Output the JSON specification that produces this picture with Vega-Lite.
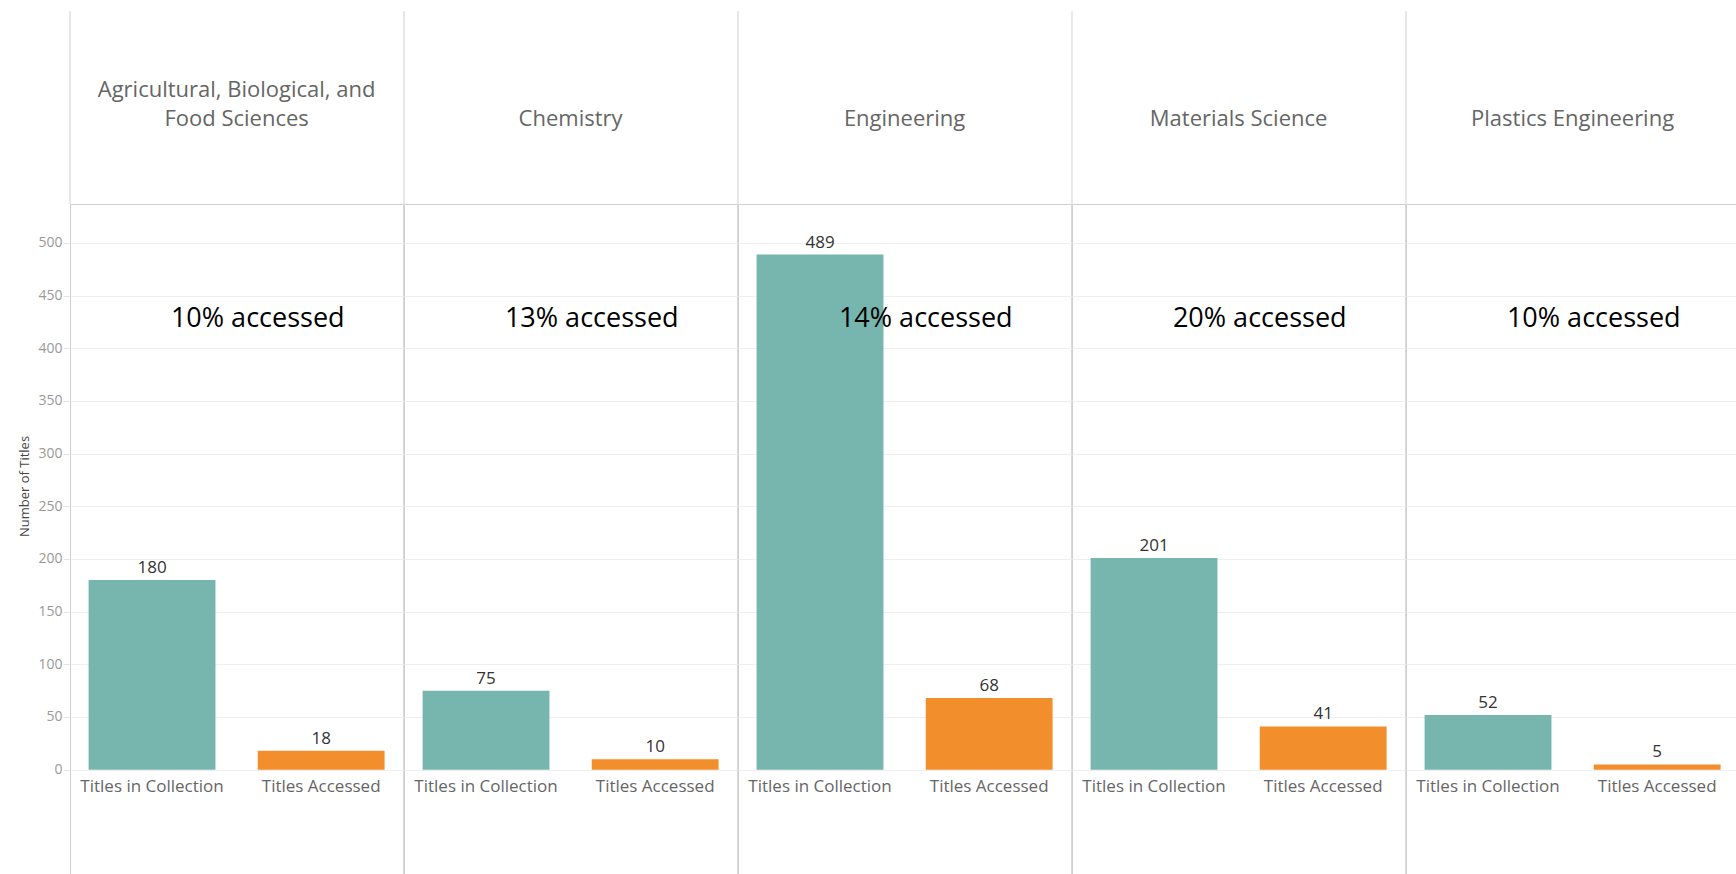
{
  "$schema": "https://vega.github.io/schema/vega-lite/v6.json",
  "background": "white",
  "padding": {"left": 18, "top": 10, "right": 0, "bottom": 0},
  "bounds": "flush",
  "data": {
    "values": [
      {"category": "Agricultural, Biological, and Food Sciences", "measure": "Titles in Collection", "value": 180, "note": "10% accessed"},
      {"category": "Agricultural, Biological, and Food Sciences", "measure": "Titles Accessed", "value": 18, "note": null},
      {"category": "Chemistry", "measure": "Titles in Collection", "value": 75, "note": "13% accessed"},
      {"category": "Chemistry", "measure": "Titles Accessed", "value": 10, "note": null},
      {"category": "Engineering", "measure": "Titles in Collection", "value": 489, "note": "14% accessed"},
      {"category": "Engineering", "measure": "Titles Accessed", "value": 68, "note": null},
      {"category": "Materials Science", "measure": "Titles in Collection", "value": 201, "note": "20% accessed"},
      {"category": "Materials Science", "measure": "Titles Accessed", "value": 41, "note": null},
      {"category": "Plastics Engineering", "measure": "Titles in Collection", "value": 52, "note": "10% accessed"},
      {"category": "Plastics Engineering", "measure": "Titles Accessed", "value": 5, "note": null}
    ]
  },
  "facet": {
    "column": {
      "field": "category",
      "type": "nominal",
      "title": null,
      "header": {
        "labelOrient": "top",
        "labelFont": "Open Sans",
        "labelFontSize": 22,
        "labelColor": "#666666",
        "labelBaseline": "middle",
        "labelPadding": 63,
        "labelLineHeight": 29,
        "labelExpr": "datum.value == 'Agricultural, Biological, and Food Sciences' ? ['Agricultural, Biological, and', 'Food Sciences'] : datum.value"
      }
    }
  },
  "spacing": 0,
  "spec": {
    "width": 333.2,
    "height": 671,
    "encoding": {
      "x": {
        "field": "measure",
        "type": "nominal",
        "sort": ["Titles in Collection", "Titles Accessed"],
        "scale": {"paddingInner": 0.25, "paddingOuter": 0.11},
        "axis": {
          "title": null,
          "labelAngle": 0,
          "ticks": false,
          "domainColor": "#cccccc",
          "offset": -105,
          "labelFont": "Open Sans",
          "labelFontSize": 17,
          "labelColor": "#666666",
          "labelPadding": 8
        }
      },
      "y": {
        "field": "value",
        "type": "quantitative",
        "scale": {"domain": [-100, 537], "nice": false, "zero": false},
        "axis": {
          "values": [0, 50, 100, 150, 200, 250, 300, 350, 400, 450, 500],
          "title": "Number of Titles",
          "titleY": 282,
          "grid": true,
          "gridColor": "#efefef",
          "tickColor": "#e4e4e4",
          "tickSize": 7,
          "labelPadding": 1,
          "domain": false,
          "labelFont": "Open Sans",
          "labelFontSize": 14,
          "labelColor": "#999999",
          "titleFont": "Open Sans",
          "titleFontSize": 13,
          "titleFontWeight": "normal",
          "titleColor": "#444444",
          "titlePadding": 6
        }
      }
    },
    "layer": [
      {
        "transform": [{"filter": "datum.note != null"}],
        "mark": {"type": "rule", "color": "#d0d0d0", "strokeWidth": 1, "clip": false},
        "encoding": {
          "x": {"datum": "Titles in Collection", "bandPosition": -0.1467},
          "y": {"datum": 537},
          "y2": {"datum": 720}
        }
      },
      {
        "mark": {"type": "bar"},
        "encoding": {
          "y2": {"datum": 0},
          "color": {
            "field": "measure",
            "type": "nominal",
            "scale": {"domain": ["Titles in Collection", "Titles Accessed"], "range": ["#77b5af", "#f28e2b"]},
            "legend": null
          }
        }
      },
      {
        "mark": {"type": "text", "baseline": "bottom", "dy": -3, "font": "Open Sans", "fontSize": 17, "color": "#333333"},
        "encoding": {
          "text": {"field": "value", "type": "quantitative"}
        }
      },
      {
        "transform": [{"filter": "datum.note != null"}],
        "mark": {"type": "text", "baseline": "middle", "align": "center", "font": "Open Sans", "fontSize": 27, "color": "#000000"},
        "encoding": {
          "x": {"datum": "Titles Accessed", "bandPosition": 0},
          "y": {"datum": 428},
          "text": {"field": "note", "type": "nominal"}
        }
      }
    ]
  },
  "config": {
    "font": "Open Sans",
    "view": {"stroke": "#d0d0d0", "strokeWidth": 1}
  }
}
